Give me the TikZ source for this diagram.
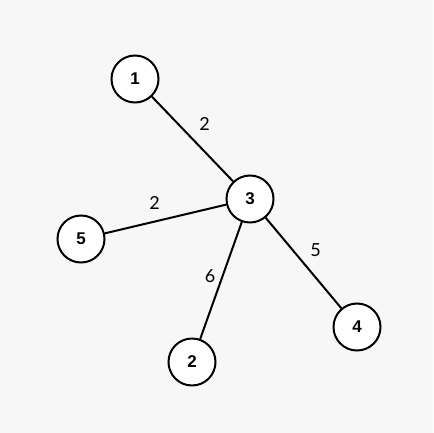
\documentclass[tikz,border=0pt]{standalone}
\usepackage{fontspec}
\setmainfont{Lato}
\newfontfamily\nodefont{Liberation Sans}
\usepackage{tikz}
\usetikzlibrary{positioning}
\definecolor{mybg}{RGB}{247,247,247}
\definecolor{mydark}{RGB}{0,0,0}
\tikzset{
  vertex/.style={circle, draw=mydark, fill=white, line width=2pt,
    minimum size=47pt, inner sep=0pt,
    font=\nodefont\fontsize{17}{19}\selectfont\bfseries},
  edge/.style={line width=2pt, color=mydark},
  weight/.style={font=\fontsize{18}{20}\selectfont, inner sep=0pt}
}
\begin{document}
\begin{tikzpicture}[x=1pt, y=-1pt]
  \fill[mybg] (0,0) rectangle (433,433);
  \useasboundingbox (0,0) rectangle (433,433);
  \node[vertex] (n1) at (135,79) {1};
  \node[vertex] (n3) at (250,199) {3};
  \node[vertex] (n5) at (81,239) {5};
  \node[vertex] (n4) at (357,327) {4};
  \node[vertex] (n2) at (192,362) {2};
  \draw[edge] (n1) -- node[weight, midway, xshift=12, yshift=15] {2} (n3);
  \draw[edge] (n5) -- node[weight, midway, xshift=-11, yshift=16] {2} (n3);
  \draw[edge] (n3) -- node[weight, midway, xshift=-11, yshift=4] {6} (n2);
  \draw[edge] (n3) -- node[weight, midway, xshift=12, yshift=13] {5} (n4);
\end{tikzpicture}
\end{document}
